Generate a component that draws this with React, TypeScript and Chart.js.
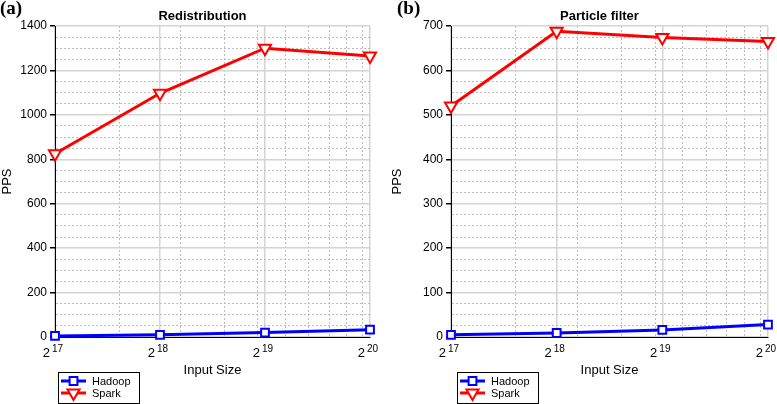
import React, { useEffect, useRef } from 'react';
import { Chart, registerables } from 'chart.js';

Chart.register(...registerables);

// ---- data ----
const X_VALUES = [131072, 262144, 524288, 1048576]; // 2^17 .. 2^20
const X_EXPONENTS = ['17', '18', '19', '20'];
const X_MINOR_TICKS = [200000, 300000, 400000, 500000, 600000, 700000, 800000, 900000, 1000000];
const SERIES_NAMES = ['Hadoop', 'Spark'];
const PANEL_TITLES = ['Redistribution', 'Particle filter'];
const PANEL_LABELS = ['(a)', '(b)'];
const REDIST_HADOOP = [5, 10, 20, 33];
const REDIST_SPARK = [825, 1097, 1300, 1265];
const PARTICLE_HADOOP = [5, 9, 16, 28];
const PARTICLE_SPARK = [520, 688, 674, 665];
const Y_AXIS_TITLE = 'PPS';
const X_AXIS_TITLE = 'Input Size';

const FONT = '"Liberation Sans", Arial, Helvetica, sans-serif';
const SERIF = '"Liberation Serif", "Times New Roman", serif';
const BLUE = '#0000ff';
const RED = '#ff0000';

type Panel = {
  width: number;
  left: number;
  yMax: number;
  yMinor: number;
  yMajor: number;
  yAxisWidth: number;
  rightPad: number;
  legendX: number;
  labelX: number;
  title: string;
  label: string;
  hadoop: number[];
  spark: number[];
};

const PANELS: Panel[] = [
  { width: 390, left: 0, yMax: 1400, yMinor: 50, yMajor: 200, yAxisWidth: 55, rightPad: 20, legendX: 58, labelX: 0, title: PANEL_TITLES[0], label: PANEL_LABELS[0], hadoop: REDIST_HADOOP, spark: REDIST_SPARK },
  { width: 387, left: 390, yMax: 700, yMinor: 25, yMajor: 100, yAxisWidth: 61, rightPad: 8, legendX: 67, labelX: 7, title: PANEL_TITLES[1], label: PANEL_LABELS[1], hadoop: PARTICLE_HADOOP, spark: PARTICLE_SPARK },
];

const MAJOR_GRID = '#d4d4d4';
const MINOR_GRID = '#bdbdbd';

function drawMarker(ctx: CanvasRenderingContext2D, style: string, color: string, x: number, y: number) {
  ctx.save();
  ctx.lineWidth = 2;
  ctx.strokeStyle = color;
  ctx.fillStyle = '#fff';
  ctx.beginPath();
  if (style === 'rect') {
    const s = 3.9;
    ctx.rect(x - s, y - s, 2 * s, 2 * s);
  } else {
    const r = 7;
    ctx.moveTo(x, y + r);
    ctx.lineTo(x - r * 0.866, y - r * 0.5);
    ctx.lineTo(x + r * 0.866, y - r * 0.5);
    ctx.closePath();
  }
  ctx.fill();
  ctx.stroke();
  ctx.restore();
}

function buildChart(canvas: HTMLCanvasElement, p: Panel) {
  const isMajorX = (v: number) => X_VALUES.includes(v);
  const isMajorY = (v: number) => Math.abs(v % p.yMajor) < 1e-9;

  const decor = {
    id: 'decor',
    afterDraw(chart: any) {
      const ctx: CanvasRenderingContext2D = chart.ctx;
      const xs = chart.scales.x;
      const area = chart.chartArea;
      ctx.save();
      ctx.fillStyle = '#000';
      // x tick labels 2^n
      X_VALUES.forEach((v, i) => {
        const px = xs.getPixelForValue(v);
        ctx.font = `13px ${FONT}`;
        ctx.textAlign = 'right';
        ctx.textBaseline = 'alphabetic';
        ctx.fillText('2', px - 5, 357);
        ctx.font = `10px ${FONT}`;
        ctx.textAlign = 'left';
        ctx.fillText(X_EXPONENTS[i], px - 3, 352);
      });
      // panel title
      ctx.font = `bold 13px ${FONT}`;
      ctx.textAlign = 'center';
      ctx.textBaseline = 'middle';
      ctx.fillText(p.title, (area.left + area.right) / 2 - 10, 16);
      // panel label
      ctx.font = `bold 19px ${SERIF}`;
      ctx.textAlign = 'left';
      ctx.textBaseline = 'alphabetic';
      ctx.fillText(p.label, p.labelX, 14);
      // legend
      const lx = p.legendX;
      const ly = 372;
      ctx.strokeStyle = '#000';
      ctx.lineWidth = 1;
      ctx.strokeRect(lx + 0.5, ly + 0.5, 81, 31);
      const entries = [
        { name: SERIES_NAMES[0], color: BLUE, style: 'rect', y: ly + 9 },
        { name: SERIES_NAMES[1], color: RED, style: 'triangle', y: ly + 21 },
      ];
      entries.forEach((e) => {
        ctx.strokeStyle = e.color;
        ctx.lineWidth = 3;
        ctx.beginPath();
        ctx.moveTo(lx + 3, e.y);
        ctx.lineTo(lx + 28, e.y);
        ctx.stroke();
        drawMarker(ctx, e.style, e.color, lx + 15.5, e.y);
        ctx.fillStyle = '#000';
        ctx.font = `11px ${FONT}`;
        ctx.textAlign = 'left';
        ctx.textBaseline = 'middle';
        ctx.fillText(e.name, lx + 34, e.y + 0.5);
      });
      ctx.restore();
    },
  };

  return new Chart(canvas, {
    type: 'line',
    data: {
      datasets: [
        {
          label: SERIES_NAMES[0],
          data: X_VALUES.map((x, i) => ({ x, y: p.hadoop[i] })),
          borderColor: BLUE,
          backgroundColor: '#fff',
          borderWidth: 3,
          pointStyle: 'rect',
          pointRadius: 5.5,
          pointBorderWidth: 2,
          pointBackgroundColor: '#fff',
          pointBorderColor: BLUE,
          tension: 0,
          clip: false,
        },
        {
          label: SERIES_NAMES[1],
          data: X_VALUES.map((x, i) => ({ x, y: p.spark[i] })),
          borderColor: RED,
          backgroundColor: '#fff',
          borderWidth: 3,
          pointStyle: 'triangle',
          pointRotation: 180,
          pointRadius: 7,
          pointBorderWidth: 2,
          pointBackgroundColor: '#fff',
          pointBorderColor: RED,
          tension: 0,
          clip: false,
        },
      ],
    } as any,
    options: {
      responsive: false,
      animation: false,
      devicePixelRatio: 1,
      layout: { padding: { left: 0, right: p.rightPad, top: 26, bottom: 0 } },
      plugins: { legend: { display: false }, title: { display: false }, tooltip: { enabled: false } },
      scales: {
        x: {
          type: 'logarithmic',
          min: X_VALUES[0],
          max: X_VALUES[X_VALUES.length - 1],
          afterBuildTicks(scale: any) {
            scale.ticks = [...X_VALUES, ...X_MINOR_TICKS].sort((a, b) => a - b).map((v) => ({ value: v }));
          },
          afterFit(scale: any) {
            scale.height = 67;
          },
          ticks: { display: false, autoSkip: false },
          grid: {
            drawTicks: false,
            color: (c: any) => (c.tick && isMajorX(c.tick.value) ? MAJOR_GRID : MINOR_GRID),
            lineWidth: (c: any) => (c.tick && isMajorX(c.tick.value) ? 1.5 : 1),
          },
          border: {
            color: '#000',
            width: 1,
            dash: (c: any) => (c.tick && !isMajorX(c.tick.value) ? [2, 2] : []),
          },
          title: {
            display: true,
            text: X_AXIS_TITLE,
            color: '#000',
            font: { family: FONT, size: 13 },
            padding: { top: 0, bottom: 26 },
          },
        },
        y: {
          min: 0,
          max: p.yMax,
          afterFit(scale: any) {
            scale.width = p.yAxisWidth;
          },
          ticks: {
            stepSize: p.yMinor,
            autoSkip: false,
            color: '#000',
            padding: 3,
            font: { family: FONT, size: 12 },
            callback: (v: any) => (isMajorY(Number(v)) ? String(v) : ''),
          },
          grid: {
            tickLength: 5,
            color: (c: any) => (c.tick && isMajorY(c.tick.value) ? MAJOR_GRID : MINOR_GRID),
            lineWidth: (c: any) => (c.tick && isMajorY(c.tick.value) ? 1.5 : 1),
            tickColor: (c: any) => (c.tick && isMajorY(c.tick.value) ? '#000' : 'rgba(0,0,0,0)'),
          },
          border: {
            color: '#000',
            width: 1,
            dash: (c: any) => (c.tick && !isMajorY(c.tick.value) ? [2, 2] : []),
          },
          title: {
            display: true,
            text: Y_AXIS_TITLE,
            color: '#000',
            font: { family: FONT, size: 13 },
            padding: { top: 0, bottom: 0 },
          },
        },
      },
    } as any,
    plugins: [decor],
  });
}

function PanelChart({ p }: { p: Panel }) {
  const ref = useRef<HTMLCanvasElement | null>(null);
  useEffect(() => {
    if (!ref.current) return;
    const chart = buildChart(ref.current, p);
    return () => chart.destroy();
  }, [p]);
  return (
    <canvas
      ref={ref}
      width={p.width}
      height={404}
      style={{ position: 'absolute', left: p.left, top: 0, width: p.width, height: 404 }}
    />
  );
}

export default function App() {
  return (
    <div style={{ position: 'fixed', left: 0, top: 0, width: 777, height: 404, background: '#fff', overflow: 'hidden' }}>
      {PANELS.map((p, i) => (
        <PanelChart key={i} p={p} />
      ))}
    </div>
  );
}
